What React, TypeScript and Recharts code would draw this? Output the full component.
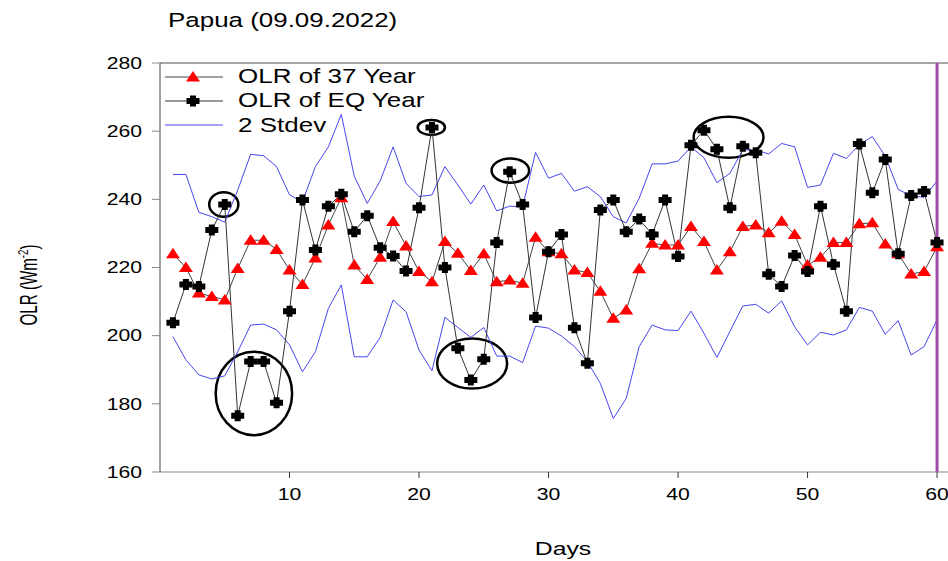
import {
  LineChart,
  Line,
  XAxis,
  YAxis,
  ReferenceLine,
  ReferenceArea,
} from 'recharts'

// values, day 1 .. 60
const olr37Year = [
  224, 220, 212.5, 211.5, 210.5, 219.7, 228, 228, 225.3, 219.3,
  215, 222.8, 232.5, 240.5, 220.7, 216.5, 223, 233.5, 226.3, 218.8,
  215.8, 227.6, 224.2, 219.1, 224, 215.8, 216.3, 215.4, 228.9, 224.6,
  224, 219.3, 218.5, 213, 205.1, 207.5, 219.6, 227.1, 226.6, 226.6,
  232, 227.6, 219.3, 224.6, 232, 232.5, 230.2, 233.6, 229.7, 220.7,
  223, 227.3, 227.3, 232.8, 233.1, 226.9, 224, 218.1, 218.8, 226.1,
]

const olrEqYear = [
  203.8, 215, 214.4, 231, 238.5, 176.5, 192.4, 192.4, 180.3, 207.2,
  239.8, 225.1, 238, 241.5, 230.5, 235.2, 225.8, 223.4, 219, 237.5,
  261.1, 220, 196.3, 187, 193.1, 227.3, 248.1, 238.5, 205.3, 224.6,
  229.7, 202.3, 191.9, 236.9, 239.8, 230.5, 234.2, 229.7, 239.8, 223.2,
  255.9, 260.3, 254.7, 237.5, 255.6, 253.7, 218, 214.4, 223.5, 218.8,
  238, 220.9, 207.2, 256.2, 241.9, 251.7, 224, 241.1, 242.3, 227.3,
]

const stdevUpper = [
  247.3, 247.3, 236.2, 234.9, 233.3, 242.7, 253.2, 252.8, 249.6, 241.3,
  239.3, 249.6, 255.4, 264.9, 246.8, 238.8, 245.4, 255.4, 244.7, 240.8,
  241.3, 249.6, 244.2, 238.6, 244.2, 236.6, 238, 237.8, 253.8, 246.2,
  247.6, 242.4, 243.7, 240.8, 234.9, 233.1, 240.3, 250.4, 250.4, 251.2,
  255.4, 252.2, 244.9, 247.6, 254.5, 254.5, 253.3, 256.4, 255.4, 243.5,
  244.2, 253.5, 252, 256.1, 258.4, 252.7, 242.9, 241, 240.6, 245.4,
]

const stdevLower = [
  199.7, 192.9, 188.5, 187.3, 188.2, 195.3, 203.1, 203.4, 201.7, 197.3,
  189.4, 195.3, 208, 214.9, 193.8, 193.8, 199.5, 210.5, 207, 195.8,
  189.7, 205.4, 202.4, 199.5, 202.4, 194, 194, 192.1, 202.8, 202.2,
  199.9, 196.8, 192.4, 186, 175.7, 181.6, 196.8, 203.1, 201.7, 201.5,
  207.2, 200.7, 193.6, 201.2, 208.7, 209.2, 206.6, 210.2, 202.6, 197.3,
  201, 200.2, 201.7, 208.3, 207.2, 200.4, 204.4, 194.3, 196.8, 204.6,
]

const xTicks = [10, 20, 30, 40, 50, 60]
const yTicks = [160, 180, 200, 220, 240, 260, 280]

// circled anomalies, bounds in data units (day range, OLR range)
const circled = [
  { x1: 3.8, x2: 6.05, y1: 234.9, y2: 242.1 },
  { x1: 4.3, x2: 10.2, y1: 170.8, y2: 195.3 },
  { x1: 19.9, x2: 22.0, y1: 258.9, y2: 263.3 },
  { x1: 21.4, x2: 26.8, y1: 184.5, y2: 199.2 },
  { x1: 25.6, x2: 28.5, y1: 244.9, y2: 252.0 },
  { x1: 41.2, x2: 46.6, y1: 252.2, y2: 264.2 },
]

const data = olr37Year.map((v, i) => ({
  day: i + 1,
  olr37: v,
  olrEq: olrEqYear[i],
  upper: stdevUpper[i],
  lower: stdevLower[i],
}))

const FONT = '"Liberation Sans", Arial, sans-serif'
const SX = 1.3 // the source picture is stretched horizontally

const triPath = (cx: number, cy: number) =>
  `M${cx},${cy - 6}L${cx + 7},${cy + 4.5}L${cx - 7},${cy + 4.5}Z`

const crossPath = (cx: number, cy: number) =>
  `M${cx - 3},${cy - 5.5}H${cx + 3}V${cy - 3}H${cx + 6.5}V${cy + 3}H${cx + 3}V${cy + 5.5}H${cx - 3}V${cy + 3}H${cx - 6.5}V${cy - 3}H${cx - 3}Z`

function TriangleDot(props: any) {
  const { cx, cy, index } = props
  if (cx == null || cy == null) return <g key={`t${index}`} />
  return <path key={`t${index}`} d={triPath(cx, cy)} fill="#ff0000" />
}

function CrossDot(props: any) {
  const { cx, cy, index } = props
  if (cx == null || cy == null) return <g key={`c${index}`} />
  return <path key={`c${index}`} d={crossPath(cx, cy)} fill="#000" />
}

function XTick(props: any) {
  const { x, y, payload } = props
  return (
    <g transform={`translate(${x},${y}) scale(${SX},1)`}>
      <text x={0} y={0} dy="0.71em" textAnchor="middle" fontSize={16.3} fontFamily={FONT} fill="#000">
        {payload.value}
      </text>
    </g>
  )
}

function YTick(props: any) {
  const { x, y, payload } = props
  return (
    <g transform={`translate(${x},${y}) scale(${SX},1)`}>
      <text x={0} y={0} dy="0.355em" textAnchor="end" fontSize={16.3} fontFamily={FONT} fill="#000">
        {payload.value}
      </text>
    </g>
  )
}

function Ellipse(props: any) {
  const { x, y, width, height } = props
  return (
    <ellipse
      cx={x + width / 2}
      cy={y + height / 2}
      rx={width / 2}
      ry={height / 2}
      fill="none"
      stroke="#000"
      strokeWidth={2.5}
    />
  )
}

export default function App() {
  return (
    <div
      style={{
        position: 'absolute',
        left: 0,
        top: 0,
        width: 948,
        height: 561,
        overflow: 'hidden',
        background: '#fff',
      }}
    >
      {/* plot runs past the right edge of the picture, like the source crop */}
      <LineChart
        width={1000}
        height={561}
        data={data}
        margin={{ top: 63, right: 0, bottom: 59, left: 100 }}
      >
        <XAxis
          dataKey="day"
          type="number"
          domain={[0, 64.86]}
          ticks={xTicks}
          allowDataOverflow
          height={30}
          tickSize={6}
          tickMargin={10}
          stroke="#888"
          tickLine={{ stroke: '#333' }}
          tick={<XTick />}
        />
        <YAxis
          type="number"
          domain={[160, 280]}
          ticks={yTicks}
          width={60}
          tickSize={8}
          tickMargin={10}
          stroke="#444"
          tickLine={{ stroke: '#888' }}
          tick={<YTick />}
        />
        <ReferenceLine y={280} stroke="#888" strokeWidth={1.5} />

        <Line
          dataKey="upper"
          stroke="#4646f0"
          strokeWidth={1}
          dot={false}
          isAnimationActive={false}
        />
        <Line
          dataKey="lower"
          stroke="#4646f0"
          strokeWidth={1}
          dot={false}
          isAnimationActive={false}
        />
        <Line
          dataKey="olr37"
          stroke="#444"
          strokeWidth={1}
          dot={TriangleDot}
          isAnimationActive={false}
        />
        <Line
          dataKey="olrEq"
          stroke="#333"
          strokeWidth={1}
          dot={CrossDot}
          isAnimationActive={false}
        />

        {circled.map((c, i) => (
          <ReferenceArea
            key={i}
            x1={c.x1}
            x2={c.x2}
            y1={c.y1}
            y2={c.y2}
            shape={<Ellipse />}
          />
        ))}

        <ReferenceLine x={60} stroke="#a24aa8" strokeWidth={3} />
      </LineChart>

      <svg
        width={948}
        height={561}
        style={{ position: 'absolute', left: 0, top: 0, pointerEvents: 'none' }}
      >
        <g transform={`translate(168,27) scale(1.33,1)`}>
          <text fontSize={19.5} fontFamily={FONT} fill="#000">
            Papua (09.09.2022)
          </text>
        </g>

        {/* legend */}
        <line x1={165} x2={223} y1={77} y2={77} stroke="#444" />
        <path d={triPath(193, 77)} fill="#ff0000" />
        <g transform={`translate(238,83) scale(${SX},1)`}>
          <text fontSize={20} fontFamily={FONT} fill="#000">OLR of 37 Year</text>
        </g>
        <line x1={165} x2={223} y1={101} y2={101} stroke="#333" />
        <path d={crossPath(193, 101)} fill="#000" />
        <g transform={`translate(238,107) scale(${SX},1)`}>
          <text fontSize={20} fontFamily={FONT} fill="#000">OLR of EQ Year</text>
        </g>
        <line x1={165} x2={223} y1={125} y2={125} stroke="#4646f0" />
        <g transform={`translate(238,131.5) scale(${SX},1)`}>
          <text fontSize={20} fontFamily={FONT} fill="#000">2 Stdev</text>
        </g>

        <g transform={`translate(563,555) scale(1.34,1)`}>
          <text fontSize={18.5} fontFamily={FONT} fill="#000" textAnchor="middle">
            Days
          </text>
        </g>

        <g transform={`translate(37,285) scale(1.45,0.92) rotate(-90)`}>
          <text fontSize={16.5} fontFamily={FONT} fill="#000" textAnchor="middle">
            OLR (Wm
            <tspan fontSize={10.5} dy={-6}>-2</tspan>
            <tspan dy={6}>)</tspan>
          </text>
        </g>
      </svg>
    </div>
  )
}
